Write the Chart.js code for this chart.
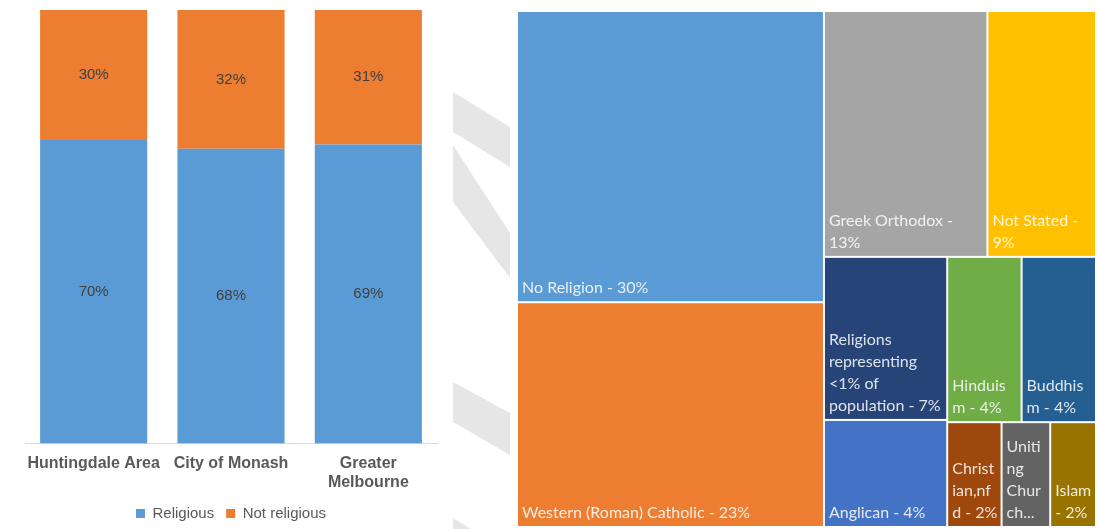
<!DOCTYPE html>
<html>
<head>
<meta charset="utf-8">
<script src="https://cdn.jsdelivr.net/npm/chart.js@4.4.0/dist/chart.umd.min.js"></script>
<style>
  html, body { margin: 0; padding: 0; background: #fff; }
  body { width: 1097px; height: 529px; position: relative; overflow: hidden; }
  #barBox { position: absolute; left: 0; top: 0; width: 445px; height: 529px; }
  #treeBox { position: absolute; left: 517px; top: 11px; width: 579px; height: 516px; }
  /* faint watermark hatching between the two charts */
  .hatch { position: absolute; left: 453px; top: 0; width: 57px; height: 529px; background: #e6e6e6; }
  #h1 { clip-path: polygon(0 92px, 57px 127px, 57px 167px, 0 132px); }
  #h2 { clip-path: polygon(0 145px, 57px 233px, 57px 278px, 0 202px); }
  #h3 { clip-path: polygon(0 382px, 57px 413px, 57px 455px, 0 422px); }
  #h4 { clip-path: polygon(0 518px, 18px 529px, 0 529px); }
</style>
</head>
<body>
<div class="hatch" id="h1"></div>
<div class="hatch" id="h2"></div>
<div class="hatch" id="h3"></div>
<div class="hatch" id="h4"></div>
<div id="barBox"><canvas id="bars"></canvas></div>
<div id="treeBox"><canvas id="tree"></canvas></div>
<script>
// left chart: share of people with / without a religion
const areas = ['Huntingdale Area', 'City of Monash', ['Greater', 'Melbourne']];
const religious = [70, 68, 69];
const notReligious = [30, 32, 31];

// right chart: treemap of religions
const religionNames = ['No Religion', 'Western (Roman) Catholic', 'Greek Orthodox', 'Not Stated',
  'Religions representing <1% of population', 'Anglican', 'Hinduism', 'Buddhism',
  'Christian,nfd', 'Uniting Church', 'Islam'];
const religionShares = [29.8, 23.0, 13.4, 8.9, 6.7, 4.4, 4.1, 4.1, 1.9, 1.7, 1.6];
const religionColors = ['#5b9bd5', '#ed7d31', '#a5a5a5', '#ffc000', '#264478', '#4472c4',
  '#70ad47', '#255e91', '#9e480e', '#636363', '#997300'];
// order the cells were laid out in: strips, taking the left side then the top side in turn
const strips = [[0, 1], [2, 3], [4, 5], [6, 7], [8, 9, 10]];

const barLabels = {
  id: 'barLabels',
  afterDatasetsDraw(chart) {
    const ctx = chart.ctx;
    ctx.save();
    ctx.font = '15px "Liberation Sans", Arial, sans-serif';
    ctx.fillStyle = '#404040';
    ctx.textAlign = 'center';
    ctx.textBaseline = 'middle';
    chart.data.datasets.forEach((ds, i) => {
      chart.getDatasetMeta(i).data.forEach((bar, j) => {
        ctx.fillText(ds.data[j] + '%', bar.x, (bar.y + bar.base) / 2);
      });
    });
    ctx.restore();
  }
};

new Chart(document.getElementById('bars'), {
  type: 'bar',
  data: {
    labels: areas,
    datasets: [
      { label: 'Religious', data: religious, backgroundColor: '#5b9bd5', barPercentage: 0.78, categoryPercentage: 1 },
      { label: 'Not religious', data: notReligious, backgroundColor: '#ed7d31', barPercentage: 0.78, categoryPercentage: 1 }
    ]
  },
  options: {
    responsive: true,
    maintainAspectRatio: false,
    animation: false,
    layout: { padding: { left: 25, right: 8, top: 10, bottom: -2 } },
    scales: {
      x: {
        stacked: true,
        grid: { display: false },
        border: { color: '#d9d9d9', width: 1 },
        ticks: {
          color: '#595959', autoSkip: false, maxRotation: 0, padding: 2,
          font: { family: '"Liberation Sans", Arial, sans-serif', size: 16, weight: 'bold' }
        }
      },
      y: { stacked: true, display: false, min: 0, max: 100 }
    },
    plugins: {
      legend: {
        position: 'bottom',
        labels: {
          boxWidth: 9, boxHeight: 9, padding: 12, color: '#595959',
          font: { family: '"Liberation Sans", Arial, sans-serif', size: 15 }
        }
      },
      tooltip: { enabled: false }
    }
  },
  plugins: [barLabels]
});

function layoutCells() {
  const rects = [];
  let x0 = 0, y0 = 0, x1 = 100, y1 = 100;
  let remaining = religionShares.reduce((a, b) => a + b, 0);
  strips.forEach((strip, i) => {
    const sum = strip.reduce((a, k) => a + religionShares[k], 0);
    const last = i === strips.length - 1;
    const f = last ? 1 : sum / remaining;
    if (i % 2 === 0 && !last) {
      // column along the left side
      const xe = x0 + (x1 - x0) * f;
      let y = y0;
      strip.forEach(k => {
        const h = (y1 - y0) * religionShares[k] / sum;
        rects.push({ k, x0: x0, x1: xe, y0: y, y1: y + h });
        y += h;
      });
      x0 = xe;
    } else {
      // row along the top side
      const ye = y0 + (y1 - y0) * f;
      let x = x0;
      strip.forEach(k => {
        const w = (x1 - x0) * religionShares[k] / sum;
        rects.push({ k, x0: x, x1: x + w, y0: y0, y1: ye });
        x += w;
      });
      y0 = ye;
    }
    remaining -= sum;
  });
  return rects;
}

function wrapText(ctx, text, maxW) {
  const lines = [];
  let cur = '';
  text.split(' ').forEach(word => {
    const tryLine = cur ? cur + ' ' + word : word;
    if (ctx.measureText(tryLine).width <= maxW) { cur = tryLine; return; }
    if (cur) lines.push(cur);
    // words that are too long get broken by character, like Excel does
    let piece = '';
    for (const ch of word) {
      if (piece && ctx.measureText(piece + ch).width > maxW) { lines.push(piece); piece = ch; }
      else piece += ch;
    }
    cur = piece;
  });
  if (cur) lines.push(cur);
  return lines;
}

const treemapCells = {
  id: 'treemapCells',
  afterDatasetsDraw(chart) {
    const ctx = chart.ctx;
    const sx = chart.scales.x, sy = chart.scales.y;
    const lineH = 22;
    ctx.save();
    ctx.font = '16px Lato, "Open Sans", sans-serif';
    layoutCells().forEach(r => {
      const left = sx.getPixelForValue(r.x0) + 1;
      const right = sx.getPixelForValue(r.x1) - 1;
      const top = sy.getPixelForValue(r.y0) + 1;
      const bottom = sy.getPixelForValue(r.y1) - 1;
      ctx.fillStyle = religionColors[r.k];
      ctx.fillRect(left, top, right - left, bottom - top);

      const label = religionNames[r.k] + ' - ' + Math.round(religionShares[r.k]) + '%';
      const maxW = right - left - 7;
      let lines = wrapText(ctx, label, maxW);
      const maxLines = Math.floor((bottom - top - 12) / lineH);
      if (lines.length > maxLines) {
        lines = lines.slice(0, maxLines);
        let lastLine = lines[maxLines - 1].replace(/[\s-]+$/, '');
        while (lastLine && ctx.measureText(lastLine + '...').width > maxW) lastLine = lastLine.slice(0, -1);
        lines[maxLines - 1] = lastLine + '...';
      }
      ctx.fillStyle = 'rgba(255,255,255,0.85)';
      ctx.textAlign = 'left';
      ctx.textBaseline = 'alphabetic';
      lines.forEach((ln, i) => {
        ctx.fillText(ln, left + 4, bottom - 8 - (lines.length - 1 - i) * lineH);
      });
    });
    ctx.restore();
  }
};

new Chart(document.getElementById('tree'), {
  type: 'scatter',
  data: { datasets: [{ data: [] }] },
  options: {
    responsive: true,
    maintainAspectRatio: false,
    animation: false,
    layout: { padding: 0 },
    scales: {
      x: { display: false, min: 0, max: 100 },
      y: { display: false, min: 0, max: 100, reverse: true }
    },
    plugins: { legend: { display: false }, tooltip: { enabled: false } }
  },
  plugins: [treemapCells]
});
</script>
</body>
</html>
